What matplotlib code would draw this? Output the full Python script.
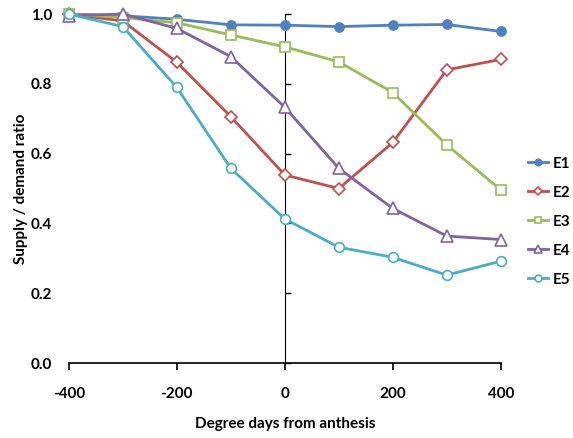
import matplotlib
matplotlib.use("Agg")
import matplotlib.pyplot as plt

plt.rcParams['font.family'] = ['Lato', 'DejaVu Sans']
plt.rcParams['font.weight'] = 'bold'

degree_days = [-400, -300, -200, -100, 0, 100, 200, 300, 400]
e1 = [1.00, 0.995, 0.985, 0.969, 0.968, 0.964, 0.968, 0.970, 0.950]
e2 = [1.00, 0.980, 0.862, 0.706, 0.539, 0.500, 0.632, 0.840, 0.870]
e3 = [1.00, 0.990, 0.975, 0.940, 0.906, 0.863, 0.775, 0.625, 0.496]
e4 = [0.995, 1.00, 0.959, 0.878, 0.733, 0.558, 0.443, 0.364, 0.354]
e5 = [1.00, 0.964, 0.790, 0.558, 0.413, 0.332, 0.303, 0.252, 0.292]
series_names = ['E1', 'E2', 'E3', 'E4', 'E5']
x_ticks = [-400, -200, 0, 200, 400]
y_ticks = [0.0, 0.2, 0.4, 0.6, 0.8, 1.0]

colors = ['#4F81BD', '#C0504D', '#9BBB59', '#8064A2', '#4BACC6']
markers = ['o', 'D', 's', '^', 'o']
msizes = [6.5, 6, 6.5, 8, 7]

fig = plt.figure(figsize=(5.73, 4.38), dpi=100)
ax = fig.add_axes([0.120, 0.171, 0.754, 0.797])

for name, vals, c, m, ms in zip(series_names, [e1, e2, e3, e4, e5], colors, markers, msizes):
    face = c if name == 'E1' else 'white'
    ax.plot(degree_days, vals, color=c, lw=2.0, marker=m, ms=ms,
            mfc=face, mec=c, mew=1.2, label=name, zorder=3, clip_on=False)

ax.set_xlim(-400, 400)
ax.set_ylim(0, 1.0)

for s in ['top', 'right', 'left']:
    ax.spines[s].set_visible(False)
ax.spines['bottom'].set_linewidth(1.2)

ax.set_xticks(x_ticks)
ax.set_xticklabels([str(v) for v in x_ticks])
ax.tick_params(axis='x', direction='out', length=5, width=1.2, pad=12, labelsize=11)

ax.set_yticks(y_ticks)
ax.set_yticklabels([f'{v:.1f}' for v in y_ticks])
ax.tick_params(axis='y', length=0, pad=12, labelsize=11)

# vertical value axis crossing at zero
sec = ax.secondary_yaxis(0.5)
sec.set_yticks(y_ticks)
sec.set_yticklabels([''] * len(y_ticks))
sec.tick_params(axis='y', direction='out', length=4, width=1.0)
sec.spines['left'].set_linewidth(1.2)

ax.set_xlabel('Degree days from anthesis', fontsize=11, fontweight='bold', labelpad=12)
ax.set_ylabel('Supply / demand ratio', fontsize=11, fontweight='bold', labelpad=2)

fig.legend(loc='center left', bbox_to_anchor=(0.922, 0.494), frameon=False,
           fontsize=11, handlelength=1.3, handletextpad=0.3, labelspacing=0.98,
           borderaxespad=0, borderpad=0, markerscale=0.7)

fig.savefig('out.png', dpi=100)
